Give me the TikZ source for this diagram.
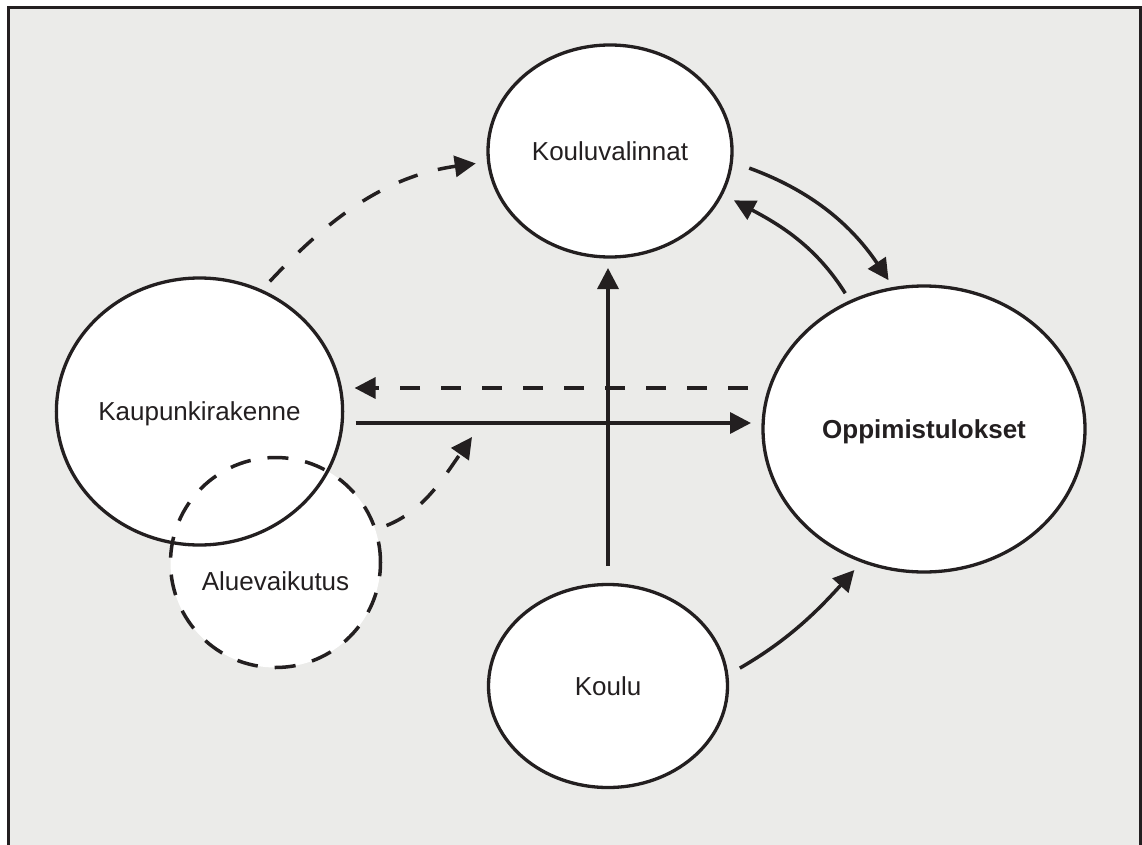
\documentclass[tikz,border=0pt]{standalone}
\usepackage{fontspec}
\setmainfont{Liberation Sans}
\usetikzlibrary{arrows.meta,shapes.geometric}
\definecolor{bg}{RGB}{235,235,233}
\definecolor{ink}{RGB}{35,31,32}
\begin{document}
\begin{tikzpicture}[x=1pt,y=1pt,
  lbl/.style={text=ink, font=\fontsize{26}{30}\selectfont, text height=18.7pt, text depth=0pt},
  ell/.style={ellipse, draw=ink, line width=3.3pt, fill=white, inner sep=0pt, outer sep=0pt, lbl},
  arr/.style={draw=ink, line width=3.5pt, -{Triangle[length=21pt,width=21pt]}},
  dsh/.style={arr, dash pattern=on 20pt off 21pt},
  dcirc/.style={draw=ink, line width=3.5pt, dash pattern=on 21pt off 17pt},
]
\fill[white] (0,0) rectangle (1142,-845);
\useasboundingbox (0,0) rectangle (1142,-845);
\fill[bg] (8,-8) rectangle (1140,-845);
\draw[ink, line width=3pt] (8,-845) -- (8,-8) -- (1140,-8) -- (1140,-845);

% nodes
\node[ell, minimum width=244pt, minimum height=212pt] (kv) at (610,-151) {Kouluvalinnat};
\node[ell, minimum width=322pt, minimum height=286pt, font=\bfseries\fontsize{26}{30}\selectfont] (opp) at (924,-429) {Oppimistulokset};
\node[ell, minimum width=239pt, minimum height=203pt] (koulu) at (608,-686) {Koulu};
\node[circle, fill=white, inner sep=0pt, outer sep=0pt, minimum size=210pt, lbl, text height=55pt] (alue) at (275.5,-562.5) {Aluevaikutus};
\node[ell, minimum width=285pt, minimum height=267pt] (kaup) at (199.5,-411.5) {Kaupunkirakenne};
\draw[dcirc] (alue.center) circle[radius=105pt];

% connectors
\draw[arr, shorten <=19pt, shorten >=11pt] (koulu.north) -- (koulu.north |- kv.south);

\coordinate (dl) at ([yshift=41pt]opp.west);
\draw[dsh, shorten <=15pt, shorten >=12pt] (dl) -- (dl -| kaup.east);

\coordinate (sr) at ([yshift=6pt]opp.west);
\draw[arr, shorten <=13pt, shorten >=12pt] (sr -| kaup.east) -- (sr);

\draw[arr, shorten <=19pt, shorten >=10pt] (kv.-5) to[out=-20, in=124] (opp.102);
\draw[arr, shorten <=10pt, shorten >=14pt] (opp.120) to[out=122, in=-28] (kv.-21);
\draw[arr, shorten <=15pt, shorten >=12pt] (koulu.5) to[out=30, in=-132] (opp.-115);
\draw[dsh, shorten <=13pt, shorten >=13pt] (kaup.63) to[out=47, in=-172] (kv.185);

\coordinate (ae) at (472,-437);
\draw[dsh, shorten <=12pt] (alue.18) to[out=22, in=-125] (ae);
\end{tikzpicture}
\end{document}
